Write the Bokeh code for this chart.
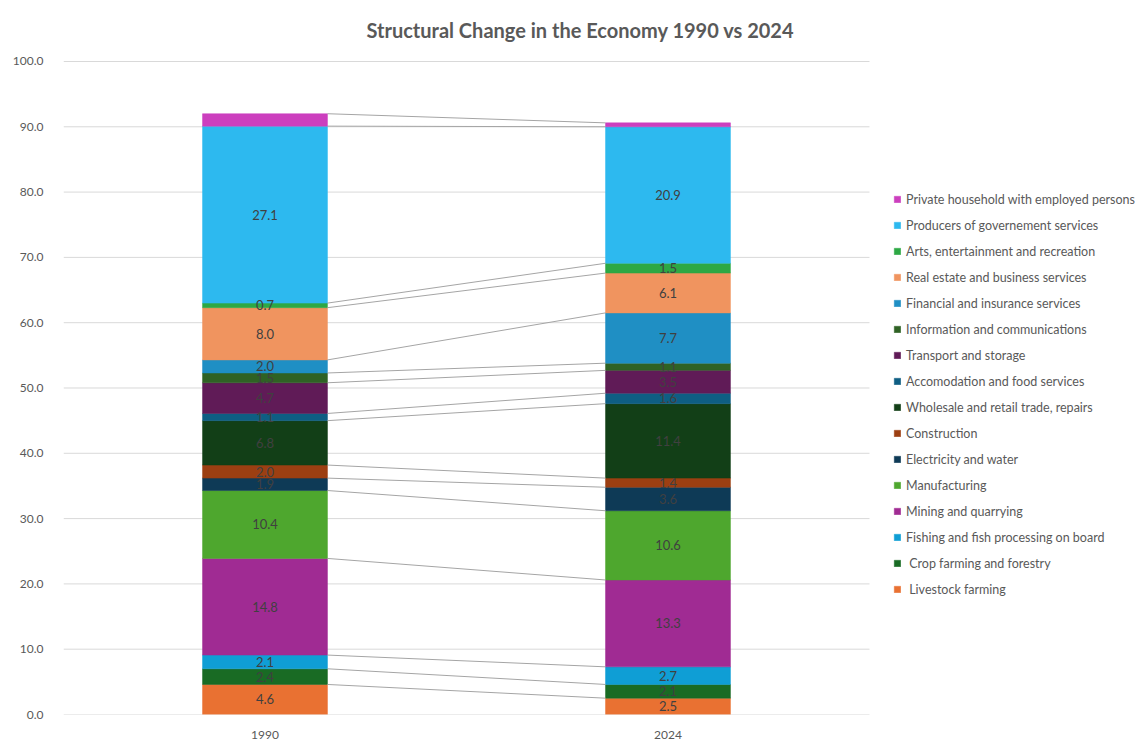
from bokeh.plotting import figure
from bokeh.models import (ColumnDataSource, Range1d, FixedTicker,
                          NumeralTickFormatter, Legend, LegendItem, LabelSet, Label)
from bokeh.core.properties import value
from bokeh.embed import file_html
from bokeh.resources import INLINE

years = ["1990", "2024"]
sectors = [
    " Livestock farming",
    " Crop farming and forestry",
    "Fishing and fish processing on board",
    "Mining and quarrying",
    "Manufacturing",
    "Electricity and water",
    "Construction",
    "Wholesale and retail trade, repairs",
    "Accomodation and food services",
    "Transport and storage",
    "Information and communications",
    "Financial and insurance services",
    "Real estate and business services",
    "Arts, entertainment and recreation",
    "Producers of governement services",
    "Private household with employed persons",
]
v1990 = [4.6, 2.4, 2.1, 14.8, 10.4, 1.9, 2.0, 6.8, 1.1, 4.7, 1.5, 2.0, 8.0, 0.7, 27.1, 1.9]
v2024 = [2.5, 2.1, 2.7, 13.3, 10.6, 3.6, 1.4, 11.4, 1.6, 3.5, 1.1, 7.7, 6.1, 1.5, 20.9, 0.6]
colors = ["#E97132", "#196B24", "#0F9ED5", "#A02B93", "#4EA72E", "#0E3A56", "#9C3F12",
          "#123F17", "#0E5E83", "#601B57", "#2F6224", "#1F8FC4", "#F0945F", "#2DA844",
          "#2DB9EF", "#CC3FBE"]
labeled = [True] * 15 + [False]
y_ticks = [0, 10, 20, 30, 40, 50, 60, 70, 80, 90, 100]
title_text = "Structural Change in the Economy 1990 vs 2024"

FONT = "Lato"
GREY = "#595959"
BAR_W = 0.31

# category centres on a numeric axis (one unit per category)
xpos = [i + 0.5 for i in range(len(years))]
n_cat = len(years)

p = figure(width=1139, height=747, x_range=Range1d(0, 2.67), y_range=Range1d(0, 109.34),
           output_backend="svg", toolbar_location=None, title=None,
           min_border_left=63, min_border_right=0, min_border_top=0, min_border_bottom=33)
p.outline_line_color = None
p.background_fill_color = "white"
p.border_fill_color = "white"
p.xgrid.grid_line_color = None
p.ygrid.grid_line_color = None

# gridlines across the plot area only
grid_src = ColumnDataSource(dict(x0=[0] * len(y_ticks), x1=[n_cat] * len(y_ticks), y=y_ticks))
p.segment(x0="x0", x1="x1", y0="y", y1="y", source=grid_src, line_color="#D9D9D9", line_width=1)

# stacked bars
items = []
cum1 = 0.0
cum2 = 0.0
lab_x, lab_y, lab_t = [], [], []
seg_y0, seg_y1 = [], []
for name, a, b, c, lab in zip(sectors, v1990, v2024, colors, labeled):
    src = ColumnDataSource(dict(x=xpos, bottom=[cum1, cum2], top=[cum1 + a, cum2 + b]))
    r = p.vbar(x="x", bottom="bottom", top="top", width=BAR_W, source=src,
               fill_color=c, line_color=c, line_width=0.5)
    items.append(LegendItem(label=name, renderers=[r]))
    if lab:
        lab_x += xpos
        lab_y += [cum1 + a / 2, cum2 + b / 2]
        lab_t += ["%.1f" % a, "%.1f" % b]
    cum1 += a
    cum2 += b
    seg_y0.append(cum1)
    seg_y1.append(cum2)

# series lines
seg_src = ColumnDataSource(dict(x0=[xpos[0] + BAR_W / 2] * len(seg_y0),
                                x1=[xpos[1] - BAR_W / 2] * len(seg_y1),
                                y0=seg_y0, y1=seg_y1))
p.segment(x0="x0", y0="y0", x1="x1", y1="y1", source=seg_src,
          line_color="#A5A5A5", line_width=1)

# data labels
lab_src = ColumnDataSource(dict(x=lab_x, y=lab_y, t=lab_t))
p.add_layout(LabelSet(x="x", y="y", text="t", source=lab_src, text_align="center",
                      text_baseline="middle", text_font=value(FONT),
                      text_font_size=value("13px"), text_color=value("#404040")))

# axes
p.xaxis.ticker = FixedTicker(ticks=xpos)
p.xaxis.major_label_overrides = {x: y for x, y in zip(xpos, years)}
p.yaxis.ticker = FixedTicker(ticks=y_ticks)
p.yaxis.formatter = NumeralTickFormatter(format="0.0")
for ax in (p.xaxis, p.yaxis):
    ax.axis_line_color = None
    ax.major_tick_line_color = None
    ax.minor_tick_line_color = None
    ax.major_label_text_font = FONT
    ax.major_label_text_font_size = "12px"
    ax.major_label_text_color = GREY
p.yaxis.major_label_standoff = 14
p.xaxis.major_label_standoff = 10

# legend
legend = Legend(items=list(reversed(items)), location=(830, 115), orientation="vertical",
                glyph_width=8, glyph_height=8, label_height=20, spacing=6,
                label_standoff=5, padding=0, margin=0, border_line_color=None,
                background_fill_alpha=0, label_text_font=FONT, label_text_font_size="12.5px",
                label_text_color=GREY)
p.add_layout(legend)

# title
p.add_layout(Label(x=517, y=685, x_units="screen", y_units="screen", text=title_text,
                   text_align="center", text_baseline="middle", text_font=FONT,
                   text_font_style="bold", text_font_size="20px", text_color=GREY))

open("out.html", "w").write(file_html(p, INLINE))
